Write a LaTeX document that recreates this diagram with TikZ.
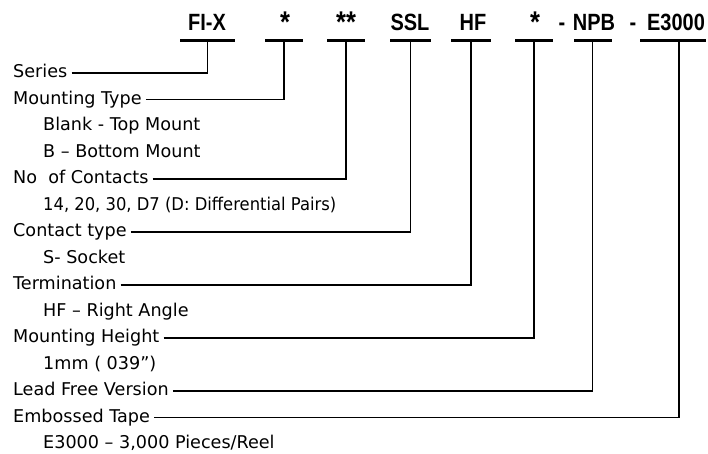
\documentclass[tikz,border=0pt]{standalone}
\usepackage{fontspec}
\setmainfont{DejaVu Sans}
\newfontfamily\hdrfont[FakeStretch=0.85]{Liberation Sans}
\begin{document}
\begin{tikzpicture}[x=1pt,y=-1pt,
  lbl/.style={anchor=base west,inner sep=0pt,font=\fontsize{17.6}{20}\selectfont},
  hdr/.style={anchor=base,inner sep=0pt,font=\hdrfont\bfseries\fontsize{23.5}{26}\selectfont},
  star/.style={anchor=base,inner sep=0pt,font=\hdrfont\bfseries\fontsize{30}{32}\selectfont},
  barbox/.style={fill=black,inner sep=0pt,minimum height=3pt},
  conn/.style={line width=1.1pt}]
\useasboundingbox (0,0) rectangle (708,453);
% header codes
\node[hdr] (h1) at (207,30) {FI-X};
\node[star] (h2) at (285,32) {*};
\node[star] (h3) at (346,32) {**};
\node[hdr] (h4) at (410,30) {SSL};
\node[hdr] (h5) at (473,30) {HF};
\node[star] (h6) at (535,32) {*};
\node[hdr] (d1) at (562,30) {-};
\node[hdr] (h7) at (594,30) {NPB};
\node[hdr] (d2) at (633,30) {-};
\node[hdr] (h8) at (676,30) {E3000};
% bars
\node[barbox,minimum width=55pt] (b1) at (207.5,40) {};
\node[barbox,minimum width=38pt] (b2) at (284,40) {};
\node[barbox,minimum width=38pt] (b3) at (346,40) {};
\node[barbox,minimum width=41pt] (b4) at (410.5,40) {};
\node[barbox,minimum width=40pt] (b5) at (471,40) {};
\node[barbox,minimum width=38pt] (b6) at (534,40) {};
\node[barbox,minimum width=38pt] (b7) at (592.5,40) {};
\node[barbox,minimum width=66pt] (b8) at (673,40) {};
\coordinate (v8) at ([xshift=6pt]b8.south);
% labels
\node[lbl] (l0) at (13,77.5) {Series};
\node[lbl] (l1) at (13,104) {Mounting Type};
\node[lbl] (l2) at (43,130.5) {Blank - Top Mount};
\node[lbl] (l3) at (43,157) {B -- Bottom Mount};
\node[lbl] (l4) at (13,183.5) {No~ of Contacts};
\node[lbl] (l5) at (43,210) {\scalebox{0.93}[1]{14, 20, 30, D7 (D: Differential Pairs)}};
\node[lbl] (l6) at (13,236.5) {Contact type};
\node[lbl] (l7) at (43,263) {S- Socket};
\node[lbl] (l8) at (13,289.5) {Termination};
\node[lbl] (l9) at (43,316) {HF -- Right Angle};
\node[lbl] (l10) at (13,342.5) {Mounting Height};
\node[lbl] (l11) at (43,369) {1mm ( 039'')};
\node[lbl] (l12) at (13,395.5) {Lead Free Version};
\node[lbl] (l13) at (13,422) {Embossed Tape};
\node[lbl] (l14) at (43,448) {E3000 -- 3,000 Pieces/Reel};
% connectors
\draw[conn] ([shift={(4pt,4.5pt)}]l0.base east) -| (b1.south);
\draw[conn] ([shift={(4pt,4.5pt)}]l1.base east) -| (b2.south);
\draw[conn] ([shift={(4pt,4.5pt)}]l4.base east) -| (b3.south);
\draw[conn] ([shift={(4pt,4.5pt)}]l6.base east) -| (b4.south);
\draw[conn] ([shift={(4pt,4.5pt)}]l8.base east) -| (b5.south);
\draw[conn] ([shift={(4pt,4.5pt)}]l10.base east) -| (b6.south);
\draw[conn] ([shift={(4pt,4.5pt)}]l12.base east) -| (b7.south);
\draw[conn] ([shift={(4pt,4.5pt)}]l13.base east) -| (v8);
\end{tikzpicture}
\end{document}
